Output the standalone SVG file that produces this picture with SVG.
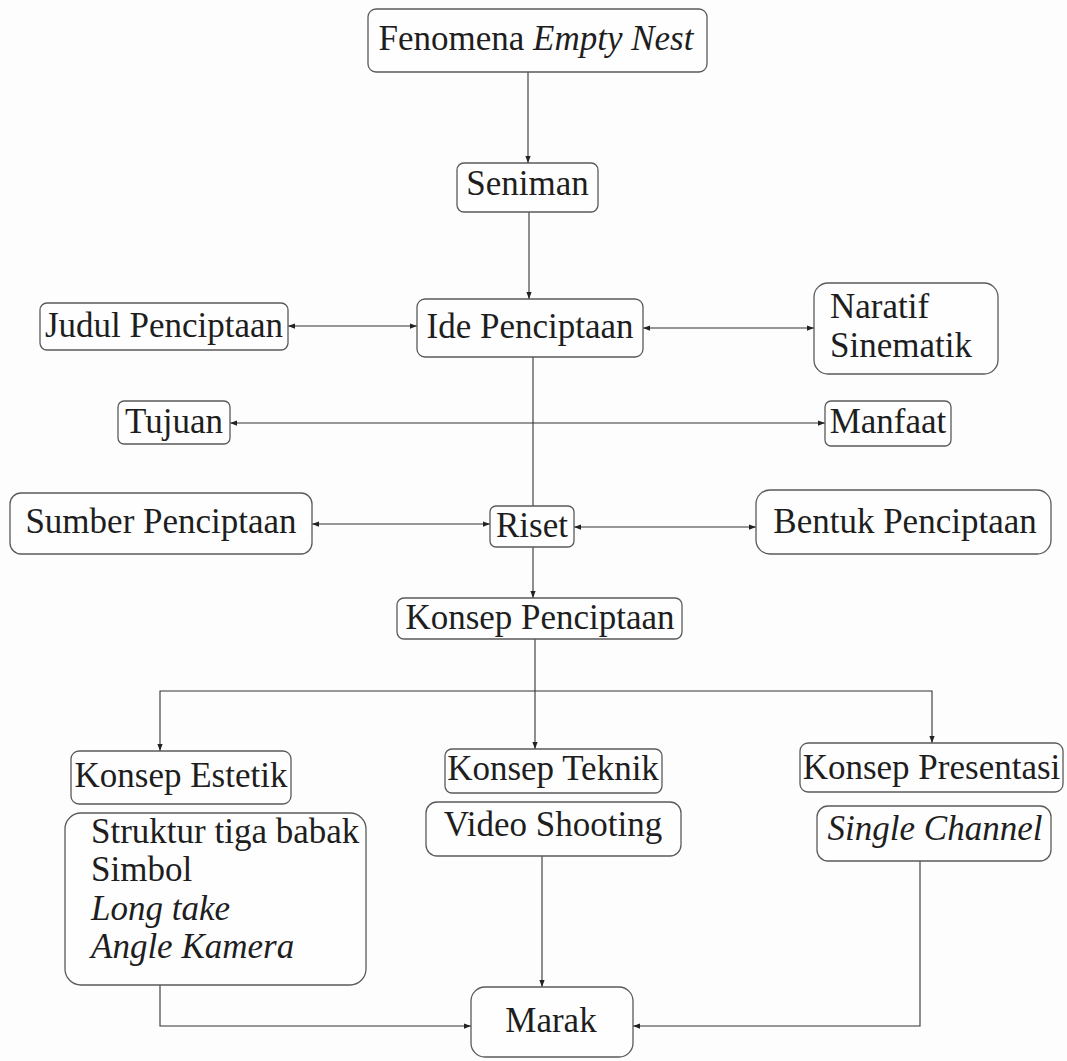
<svg xmlns="http://www.w3.org/2000/svg" width="1067" height="1061" viewBox="0 0 1067 1061">
<style>
.box{fill:#fefefe;stroke:#5a5a5a;stroke-width:1.3}
.t{font-family:"Liberation Serif","Times New Roman",serif;font-size:35px;fill:#1e1e1e}
.m{text-anchor:middle}
.i{font-style:italic}
.c{fill:none;stroke:#333;stroke-width:1.1}
</style>
<defs>
<marker id="ah" viewBox="0 0 8 6" refX="8" refY="3" markerWidth="7" markerHeight="5.5" markerUnits="userSpaceOnUse" orient="auto-start-reverse">
<path d="M0,0 L8,3 L0,6 z" fill="#222"/>
</marker>
</defs>
<rect width="1067" height="1061" fill="#fdfdfd"/>
<g id="connectors">
<path class="c" d="M528,72 V163" marker-end="url(#ah)"/>
<path class="c" d="M529,212 V299" marker-end="url(#ah)"/>
<path class="c" d="M288,326 H417" marker-start="url(#ah)" marker-end="url(#ah)"/>
<path class="c" d="M643,328 H814" marker-start="url(#ah)" marker-end="url(#ah)"/>
<path class="c" d="M230,423 H825" marker-start="url(#ah)" marker-end="url(#ah)"/>
<path class="c" d="M533,357 V506"/>
<path class="c" d="M312,524 H490" marker-start="url(#ah)" marker-end="url(#ah)"/>
<path class="c" d="M574,527 H756" marker-start="url(#ah)" marker-end="url(#ah)"/>
<path class="c" d="M533,547 V598" marker-end="url(#ah)"/>
<path class="c" d="M535,639 V749" marker-end="url(#ah)"/>
<path class="c" d="M160,751 V691 H932 V743" marker-start="url(#ah)" marker-end="url(#ah)"/>
<path class="c" d="M160,985 V1026 H471" marker-end="url(#ah)"/>
<path class="c" d="M542,856 V987" marker-end="url(#ah)"/>
<path class="c" d="M920,861 V1026 H633" marker-end="url(#ah)"/>
</g>
<g id="n-fenomena"><rect class="box" x="368" y="9" width="339" height="63" rx="8"/><text class="t m" x="536" y="50">Fenomena <tspan class="i">Empty Nest</tspan></text></g>
<g id="n-seniman"><rect class="box" x="457" y="163" width="141" height="49" rx="7"/><text class="t m" x="527.5" y="195">Seniman</text></g>
<g id="n-judul"><rect class="box" x="40" y="303" width="248" height="47" rx="7"/><text class="t m" x="164" y="337">Judul Penciptaan</text></g>
<g id="n-ide"><rect class="box" x="417" y="299" width="226" height="58" rx="8"/><text class="t m" x="530" y="338">Ide Penciptaan</text></g>
<g id="n-naratif"><rect class="box" x="814" y="283" width="184" height="91" rx="14"/><text class="t" x="830" y="318">Naratif</text><text class="t" x="830" y="357">Sinematik</text></g>
<g id="n-tujuan"><rect class="box" x="118" y="401" width="112" height="43" rx="6"/><text class="t m" x="174" y="433">Tujuan</text></g>
<g id="n-manfaat"><rect class="box" x="825" y="401" width="126" height="45" rx="6"/><text class="t m" x="888" y="433">Manfaat</text></g>
<g id="n-sumber"><rect class="box" x="10" y="493" width="302" height="61" rx="11"/><text class="t m" x="161" y="533">Sumber Penciptaan</text></g>
<g id="n-riset"><rect class="box" x="490" y="506" width="84" height="41" rx="6"/><text class="t m" x="532" y="537">Riset</text></g>
<g id="n-bentuk"><rect class="box" x="756" y="490" width="295" height="64" rx="14"/><text class="t m" x="905" y="533">Bentuk Penciptaan</text></g>
<g id="n-konsep"><rect class="box" x="397" y="598" width="285" height="41" rx="7"/><text class="t m" x="540" y="629">Konsep Penciptaan</text></g>
<g id="n-estetik"><rect class="box" x="71" y="751" width="220" height="53" rx="8"/><text class="t m" x="181" y="787">Konsep Estetik</text></g>
<g id="n-estetik-isi"><rect class="box" x="65" y="813" width="301" height="172" rx="16"/>
<text class="t" x="91" y="843">Struktur tiga babak</text>
<text class="t" x="91" y="881">Simbol</text>
<text class="t i" x="91" y="920">Long take</text>
<text class="t i" x="91" y="958">Angle Kamera</text></g>
<g id="n-teknik"><rect class="box" x="445" y="749" width="217" height="44" rx="7"/><text class="t m" x="553" y="780">Konsep Teknik</text></g>
<g id="n-video"><rect class="box" x="426" y="802" width="255" height="54" rx="11"/><text class="t m" x="553" y="836">Video Shooting</text></g>
<g id="n-presentasi"><rect class="box" x="800" y="743" width="263" height="49" rx="8"/><text class="t m" x="931.5" y="779">Konsep Presentasi</text></g>
<g id="n-single"><rect class="box" x="817" y="806" width="234" height="55" rx="11"/><text class="t m i" x="935" y="840">Single Channel</text></g>
<g id="n-marak"><rect class="box" x="471" y="987" width="162" height="70" rx="14"/><text class="t m" x="551" y="1032">Marak</text></g>
</svg>
